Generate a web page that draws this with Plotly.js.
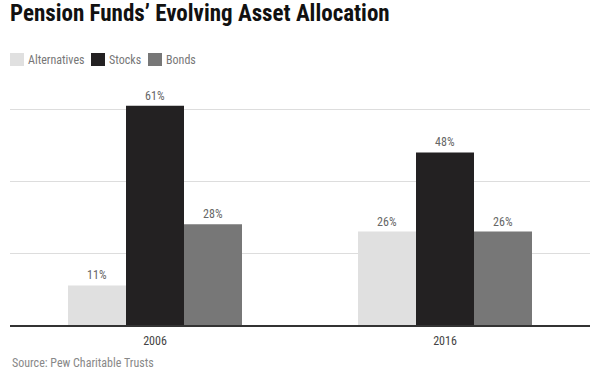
<!DOCTYPE html>
<html><head><meta charset="utf-8">
<script src="https://cdn.plot.ly/plotly-3.0.1.min.js"></script>
<style>html,body{margin:0;padding:0;background:#fff}#chart{width:604px;height:374px}</style>
</head><body><div id="chart"></div>
<script>
const years = ['2006', '2016'];
const seriesNames = ['Alternatives', 'Stocks', 'Bonds'];
const alternatives = [11, 26];
const stocks = [61, 48];
const bonds = [28, 26];
const colors = ['#e0e0e0', '#232122', '#777777'];
const seriesValues = [alternatives, stocks, bonds];

const FONT = '"Liberation Sans Narrow", "Roboto Condensed", "DejaVu Sans Condensed", Arial Narrow, sans-serif';

const traces = seriesNames.map((name, i) => ({
  type: 'bar', name: name, x: years, y: seriesValues[i],
  marker: {color: colors[i], line: {width: 0}},
  texttemplate: '%{y}%', textposition: 'outside', cliponaxis: false,
  textfont: {family: FONT, size: 12, color: '#666'},
  hoverinfo: 'skip', showlegend: false
}));

// manual legend (swatch + label) at the chart's top-left
const legendX = [0, 81, 138];
const shapes = [];
const annotations = [];
seriesNames.forEach((name, i) => {
  shapes.push({type: 'rect', xref: 'paper', yref: 'paper', xsizemode: 'pixel', ysizemode: 'pixel',
    xanchor: 0, yanchor: 1, x0: legendX[i], x1: legendX[i] + 14, y0: 24, y1: 37,
    fillcolor: colors[i], line: {width: 0}});
  annotations.push({xref: 'paper', yref: 'paper', x: 0, y: 1, xshift: legendX[i] + 16, yshift: 30.5,
    xanchor: 'left', yanchor: 'middle', showarrow: false, text: name,
    font: {family: FONT, size: 12, color: '#777'}});
});
annotations.push({xref: 'paper', yref: 'paper', x: 0, y: 0, yshift: -38, xanchor: 'left', yanchor: 'middle',
  showarrow: false, text: 'Source: Pew Charitable Trusts', font: {family: FONT, size: 12, color: '#888'}});

const layout = {
  width: 604, height: 374,
  margin: {l: 10, r: 14, t: 90, b: 49},
  paper_bgcolor: '#fff', plot_bgcolor: '#fff',
  title: {text: 'Pension Funds’ Evolving Asset Allocation', x: 10/604, xref: 'container', xanchor: 'left',
    y: 1 - 5/374, yref: 'container', yanchor: 'top',
    font: {family: FONT, size: 23, color: '#111', weight: 'bold'}},
  barmode: 'group', bargap: 0.4, bargroupgap: 0,
  xaxis: {type: 'category', showgrid: false, showline: true, linecolor: '#333', linewidth: 1.5,
    ticks: '', ticklabelstandoff: 4, tickfont: {family: FONT, size: 12, color: '#444', weight: 'normal'}, fixedrange: true},
  yaxis: {range: [0, 65.37], tickvals: [0, 20, 40, 60], showticklabels: false, showgrid: true,
    gridcolor: '#ddd', gridwidth: 1, zeroline: false, ticks: '', fixedrange: true},
  shapes: shapes, annotations: annotations,
  showlegend: false
};
Plotly.newPlot('chart', traces, layout, {displayModeBar: false, staticPlot: true});
</script></body></html>
